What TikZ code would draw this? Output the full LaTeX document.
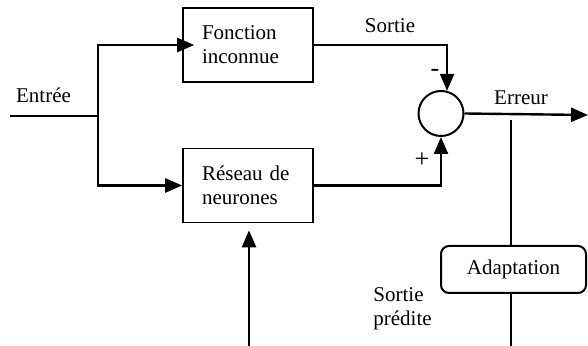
\documentclass[tikz,border=0pt]{standalone}
\usepackage{fontspec}
\setmainfont{Liberation Serif}
\usetikzlibrary{arrows.meta}
\begin{document}
\begin{tikzpicture}[x=0.5pt,y=-0.5pt,
  font=\fontsize{10.5pt}{12pt}\selectfont,
  blockbox/.style={draw,line width=0.8pt,minimum width=65pt,minimum height=37pt,
    text width=46pt,inner xsep=9.5pt,align=left},
  adaptbox/.style={draw,line width=1pt,rounded corners=4pt,minimum width=72.5pt,minimum height=23.5pt},
  sumnode/.style={draw,circle,line width=1pt,minimum size=22.5pt,inner sep=0pt},
  wire/.style={line width=1.2pt},
  arr/.style={wire,-{Triangle[length=8.5pt,width=7pt]}},
  lbl/.style={inner sep=0pt},
  signlbl/.style={inner sep=0pt,font=\fontsize{13pt}{14pt}\selectfont}]
\useasboundingbox (0,0) rectangle (588,346);

% blocks
\node[blockbox] (f) at (248,45) {Fonction\\inconnue};
\node[blockbox] (r) at (248,185.5) {R\'eseau de\\neurones};
\node[sumnode] (c) at (441,113.5) {};
\node[adaptbox] (a) at (513.5,269.5) {Adaptation};

% free ends
\coordinate (in) at (10,116);
\coordinate (j) at (98,116);
\coordinate (out) at (588,115);
\coordinate (tap) at (511,120);
\coordinate (tapend) at (511,346);
\coordinate (learn) at (249,346);

% input split
\draw[wire] (in) -- (j);
\draw[arr,shorten >=-6pt] (j) |- (f.west);
\draw[arr] (j) |- (r.west);

% outputs to the comparator
\draw[arr] (f.east) -| (c.75);
\draw[arr] (r.east) -| (c.south);
\draw[arr] (c.east) -- (out);

% adaptation loop
\draw[wire] (tap) -- (a.north -| tap);
\draw[wire] (a.south -| tap) -- (tapend);
\draw[arr,shorten >=3.5pt] (learn) -- (learn |- r.south);

% labels
\node[lbl,anchor=base] (tin) at (43.5,103) {Entr\'ee};
\node[lbl,anchor=base] (tsortie) at (390,33) {Sortie};
\node[lbl,anchor=base] (terr) at (521,105) {Erreur};
\node[signlbl] (tminus) at (435,73) {-};
\node[signlbl] (tplus) at (422,160) {+};
\node[lbl,anchor=west,align=left] (tpred) at (373,309) {Sortie\\pr\'edite};
\end{tikzpicture}
\end{document}
